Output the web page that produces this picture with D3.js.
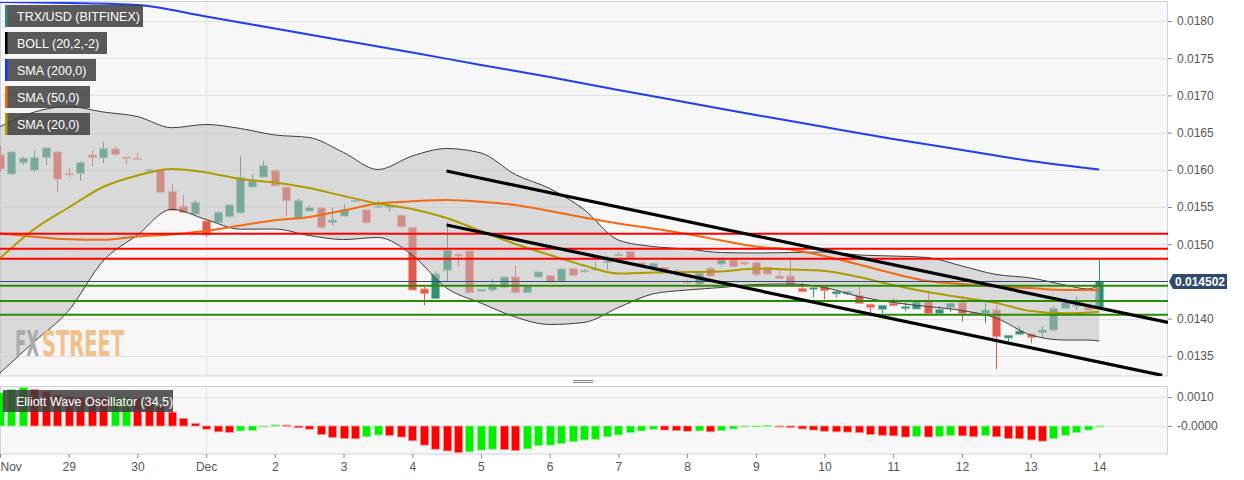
<!DOCTYPE html>
<html><head><meta charset="utf-8">
<script src="https://cdn.jsdelivr.net/npm/d3@7"></script>
<style>
html,body{margin:0;padding:0;background:#fff;}
svg{display:block;font-family:"Liberation Sans",Arial,Helvetica,sans-serif;}
</style></head><body>
<svg id="chart" width="1244" height="480"></svg>
<script>
// ---------------- DATA ----------------
const firstCandle = Date.UTC(2019, 10, 28, 0, 0);   // 4-hour candles
const candleHours = 4;
const dayTicks = ["Nov","29","30","Dec","2","3","4","5","6","7","8","9","10","11","12","13","14"];
const priceTicks = [0.0135,0.0140,0.0145,0.0150,0.0155,0.0160,0.0165,0.0170,0.0175,0.0180];
const priceLabelTicks = [0.0135,0.0140,0.0150,0.0155,0.0160,0.0165,0.0170,0.0175,0.0180]; // 0.0145 hidden under price tag
const oscTicks = [0.0010, 0.0];
const oscTickLabels = ["0.0010","-0.0000"];

const open = [0.016199,0.015944,0.016095,0.015997,0.016168,0.016239,0.015950,0.015953,0.016199,0.016163,
0.016280,0.016172,0.016155,0.015993,0.015988,0.015711,0.015509,0.015406,0.015312,0.015294,
0.015370,0.015423,0.015769,0.015903,0.015993,0.015765,0.015343,0.015446,0.015487,0.015294,
0.015379,0.015574,0.015460,0.015500,0.015491,0.015388,0.015224,0.014398,0.014270,0.014649,
0.014864,0.014909,0.014371,0.014384,0.014421,0.014559,0.014348,0.014559,0.014577,0.014505,
0.014671,0.014630,0.014653,0.014751,0.014845,0.014899,0.014747,0.014676,0.014687,0.014626,
0.014501,0.014465,0.014676,0.014734,0.014788,0.014757,0.014751,0.014690,0.014573,0.014573,
0.014407,0.014394,0.014429,0.014331,0.014331,0.014310,0.014192,0.014125,0.014206,0.014133,
0.014129,0.014227,0.014071,0.014152,0.014214,0.014079,0.014071,0.014116,0.013739,0.013789,
0.013793,0.013810,0.013847,0.014138,0.014169,0.014152,0.014156];
const high = [0.016320,0.016253,0.016176,0.016257,0.016306,0.016253,0.016028,0.016118,0.016266,0.016378,
0.016320,0.016172,0.016230,0.016015,0.015997,0.015805,0.015661,0.015594,0.015325,0.015446,
0.015540,0.016185,0.015944,0.016122,0.016004,0.015776,0.015617,0.015523,0.015500,0.015491,
0.015536,0.015594,0.015466,0.015585,0.015571,0.015406,0.015231,0.014425,0.014633,0.015294,
0.014886,0.014915,0.014398,0.014532,0.014566,0.014707,0.014438,0.014633,0.014586,0.014673,
0.014680,0.014667,0.014765,0.014845,0.014891,0.014909,0.014761,0.014754,0.014693,0.014667,
0.014512,0.014620,0.014700,0.014794,0.014801,0.014767,0.014761,0.014700,0.014653,0.014797,
0.014496,0.014425,0.014438,0.014371,0.014371,0.014429,0.014203,0.014183,0.014273,0.014227,
0.014237,0.014375,0.014169,0.014216,0.014304,0.014089,0.014227,0.014183,0.013780,0.013900,
0.013800,0.013900,0.014169,0.014273,0.014294,0.014163,0.014788];
const low = [0.015970,0.015930,0.016064,0.015966,0.016064,0.015706,0.015899,0.015853,0.016051,0.016087,
0.016185,0.016074,0.016132,0.015974,0.015688,0.015446,0.015419,0.015392,0.015101,0.015285,
0.015359,0.015413,0.015751,0.015896,0.015776,0.015379,0.015332,0.015439,0.015208,0.015249,
0.015372,0.015567,0.015278,0.015493,0.015437,0.015224,0.014378,0.014176,0.014263,0.014505,
0.014698,0.014337,0.014364,0.014357,0.014411,0.014337,0.014344,0.014552,0.014485,0.014499,
0.014573,0.014617,0.014646,0.014663,0.014837,0.014801,0.014707,0.014667,0.014640,0.014573,
0.014472,0.014458,0.014559,0.014698,0.014687,0.014720,0.014559,0.014586,0.014532,0.014445,
0.014351,0.014286,0.014259,0.014286,0.014317,0.014196,0.014026,0.014071,0.014163,0.014106,
0.014122,0.014062,0.014062,0.014093,0.013958,0.014062,0.013937,0.013318,0.013689,0.013780,
0.013668,0.013749,0.013840,0.014129,0.014116,0.014109,0.014142];
const close = [0.016011,0.016239,0.016155,0.016163,0.016293,0.015876,0.015937,0.016095,0.016168,0.016284,
0.016208,0.016164,0.016145,0.016001,0.015698,0.015456,0.015429,0.015563,0.015124,0.015429,
0.015527,0.015899,0.015863,0.016055,0.015786,0.015585,0.015585,0.015491,0.015227,0.015325,
0.015469,0.015587,0.015289,0.015513,0.015513,0.015235,0.014384,0.014335,0.014599,0.014918,
0.014841,0.014348,0.014394,0.014461,0.014559,0.014348,0.014434,0.014626,0.014492,0.014667,
0.014582,0.014649,0.014671,0.014774,0.014864,0.014810,0.014720,0.014743,0.014653,0.014640,
0.014482,0.014609,0.014573,0.014788,0.014698,0.014734,0.014590,0.014599,0.014542,0.014452,
0.014362,0.014415,0.014375,0.014362,0.014362,0.014203,0.014152,0.014179,0.014173,0.014160,
0.014227,0.014071,0.014125,0.014206,0.014071,0.014071,0.014116,0.013757,0.013776,0.013833,
0.013749,0.013847,0.014138,0.014214,0.014183,0.014116,0.014502];

// Bollinger band (20,2) and moving averages, read at candle indices
const bandIdx = [0,3,6,9,12,15,18,21,24,27,30,33,36,39,42,45,48,51,54,57,60,63,66,69,72,75,78,81,84,87,90,93,95,96];
const bandUpper = [0.016580,0.016777,0.016851,0.016777,0.016716,0.016566,0.016609,0.016555,0.016468,0.016434,
0.016233,0.016004,0.016185,0.016286,0.016226,0.015937,0.015749,0.015466,0.015056,0.014969,
0.014935,0.014888,0.014882,0.014888,0.014895,0.014855,0.014841,0.014821,0.014707,0.014593,
0.014546,0.014452,0.014398,0.014452];
const bandLower = [0.013269,0.013692,0.014109,0.014774,0.015124,0.015469,0.015332,0.015202,0.015204,0.015117,
0.015063,0.015090,0.014855,0.014411,0.014210,0.014021,0.013921,0.013948,0.014149,0.014331,
0.014384,0.014418,0.014458,0.014465,0.014418,0.014297,0.014216,0.014163,0.014109,0.014008,
0.013780,0.013712,0.013712,0.013699];
const smaIdx = [0,3,6,9,12,15,18,21,24,27,30,33,36,39,42,45,48,51,54,57,60,63,66,69,72,75,78,81,84,87,90,93,96];
const sma20 = [0.014810,0.015204,0.015493,0.015769,0.015923,0.016011,0.015964,0.015876,0.015829,0.015755,
0.015648,0.015547,0.015473,0.015352,0.015177,0.015003,0.014855,0.014714,0.014606,0.014620,
0.014626,0.014633,0.014673,0.014660,0.014640,0.014559,0.014452,0.014357,0.014284,0.014210,
0.014102,0.014071,0.014093];
const sma50 = [0.015146,0.015099,0.015066,0.015059,0.015103,0.015130,0.015180,0.015251,0.015321,0.015366,
0.015453,0.015547,0.015577,0.015594,0.015570,0.015527,0.015446,0.015359,0.015278,0.015211,
0.015137,0.015050,0.014969,0.014929,0.014841,0.014727,0.014606,0.014505,0.014465,0.014431,
0.014411,0.014384,0.014384];
const sma200Idx = [0,6,12,18,24,30,36,42,48,54,60,66,72,78,84,90,96];
const sma200 = [0.018255,0.018242,0.018215,0.018060,0.017899,0.017738,0.017577,0.017409,0.017247,0.017073,
0.016905,0.016737,0.016575,0.016414,0.016266,0.016118,0.016004];

// horizontal support / resistance levels
const resistance = [0.015140, 0.014940, 0.014805];
const support = [0.014442, 0.014237, 0.014052];
const lastPrice = 0.014502;

// descending channel: [candle index, price] endpoints
const trendUpper = [[39, 0.015984], [102, 0.013948]];
const trendLower = [[39, 0.015258], [101.5, 0.013237]];

// Elliott Wave Oscillator (34,5), one value per candle
const ewo = [0.00115,0.00126,0.00133,0.00126,0.00118,0.00107,0.00101,0.00100,0.00099,0.00098,
0.00099,0.00100,0.00096,0.00087,0.00067,0.00048,0.00026,0.00009,-0.00011,-0.00020,
-0.00022,-0.00017,-0.00015,-0.00001,0.00004,0.00003,-0.00006,-0.00011,-0.00029,-0.00039,
-0.00043,-0.00044,-0.00037,-0.00031,-0.00033,-0.00038,-0.00051,-0.00066,-0.00080,-0.00086,
-0.00092,-0.00089,-0.00083,-0.00080,-0.00081,-0.00085,-0.00079,-0.00068,-0.00066,-0.00060,
-0.00054,-0.00048,-0.00046,-0.00037,-0.00031,-0.00023,-0.00017,-0.00011,-0.00014,-0.00016,
-0.00018,-0.00017,-0.00020,-0.00016,-0.00010,-0.00003,-0.00002,0.00002,-0.00002,-0.00005,
-0.00010,-0.00014,-0.00018,-0.00020,-0.00021,-0.00023,-0.00029,-0.00032,-0.00034,-0.00038,
-0.00036,-0.00038,-0.00036,-0.00033,-0.00034,-0.00037,-0.00033,-0.00037,-0.00043,-0.00044,
-0.00048,-0.00052,-0.00043,-0.00032,-0.00023,-0.00014,-0.00001];

const legendItems = [
  {label:"TRX/USD (BITFINEX)", color:"#2e8b74", w:138},
  {label:"BOLL (20,2,-2)", color:"#000000", w:102},
  {label:"SMA (200,0)", color:"#1533ff", w:91},
  {label:"SMA (50,0)", color:"#ff6a00", w:85},
  {label:"SMA (20,0)", color:"#b09b00", w:85}
];

// ---------------- LAYOUT ----------------
const plotL = 0, plotR = 1168;
const mainTop = 2, mainBot = 376;
const oscTop = 387, oscBot = 454;

const svg = d3.select("#chart");
const tAt = i => new Date(firstCandle + i * candleHours * 3600e3);

const x = d3.scaleUtc()
  .domain([new Date(Date.UTC(2019,10,28)), new Date(Date.UTC(2019,11,15))])
  .range([plotL, plotR]);
const y = d3.scaleLinear().domain([0.0135, 0.0180]).range([355.8, 21]);
const yo = d3.scaleLinear().domain([0, 0.001]).range([426, 397]);

const defs = svg.append("defs");
defs.append("clipPath").attr("id","clipMain").append("rect")
  .attr("x", plotL).attr("y", mainTop).attr("width", plotR-plotL).attr("height", mainBot-mainTop);
defs.append("clipPath").attr("id","clipOsc").append("rect")
  .attr("x", plotL).attr("y", oscTop).attr("width", plotR-plotL).attr("height", oscBot-oscTop);

// panels
svg.append("rect").attr("x", plotL+0.5).attr("y", mainTop-0.5).attr("width", plotR-plotL-1).attr("height", mainBot-mainTop+0.5)
  .attr("fill","#f7f7f7").attr("stroke","#cdd2e2");
svg.append("rect").attr("x", plotL+0.5).attr("y", oscTop-0.5).attr("width", plotR-plotL-1).attr("height", oscBot-oscTop+0.5)
  .attr("fill","#f7f7f7").attr("stroke","#cdd2e2");

const main = svg.append("g").attr("clip-path","url(#clipMain)");
const osc = svg.append("g").attr("clip-path","url(#clipOsc)");

// grid
main.selectAll("line.gy").data(priceTicks).join("line")
  .attr("x1", plotL).attr("x2", plotR)
  .attr("y1", d => Math.round(y(d))+0.5).attr("y2", d => Math.round(y(d))+0.5)
  .attr("stroke","#e2e2e2");
const decX = Math.round(x(new Date(Date.UTC(2019,11,1))))+0.5;
main.append("line").attr("x1",decX).attr("x2",decX).attr("y1",mainTop).attr("y2",mainBot).attr("stroke","#e2e2e2");
osc.selectAll("line.go").data(oscTicks).join("line")
  .attr("x1", plotL).attr("x2", plotR)
  .attr("y1", d => Math.round(yo(d))+0.5).attr("y2", d => Math.round(yo(d))+0.5)
  .attr("stroke","#e2e2e2");
osc.append("line").attr("x1",decX).attr("x2",decX).attr("y1",oscTop).attr("y2",oscBot).attr("stroke","#e2e2e2");

// candles
const upC = "#2f8f74", dnC = "#e2584b";
const candles = open.map((o,i)=>({i, t:tAt(i), o, h:high[i], l:low[i], c:close[i]}));
const cg = main.append("g");
cg.selectAll("line.wick").data(candles).join("line")
  .attr("x1", d => Math.round(x(d.t))+0.5).attr("x2", d => Math.round(x(d.t))+0.5)
  .attr("y1", d => y(d.h)).attr("y2", d => y(d.l))
  .attr("stroke", d => d.c >= d.o ? upC : dnC).attr("stroke-width",1);
cg.selectAll("rect.body").data(candles).join("rect")
  .attr("x", d => Math.round(x(d.t)) - 3.5).attr("width", 8)
  .attr("y", d => y(Math.max(d.o,d.c)))
  .attr("height", d => Math.max(1.2, Math.abs(y(d.o)-y(d.c))))
  .attr("fill", d => d.c >= d.o ? upC : dnC)
  .attr("stroke", d => d.c >= d.o ? "#8ac3b3" : "#f2a49c").attr("stroke-width",0.8);

// Bollinger band
const bandPts = bandIdx.map((k,j)=>({t:tAt(k), u:bandUpper[j], l:bandLower[j]}));
main.append("path").datum(bandPts)
  .attr("d", d3.area().x(d=>x(d.t)).y0(d=>y(d.l)).y1(d=>y(d.u)).curve(d3.curveMonotoneX))
  .attr("fill","rgba(190,190,190,0.52)");
main.append("path").datum(bandPts)
  .attr("d", d3.line().x(d=>x(d.t)).y(d=>y(d.u)).curve(d3.curveMonotoneX))
  .attr("fill","none").attr("stroke","#3c3c3c").attr("stroke-width",1);
main.append("path").datum(bandPts)
  .attr("d", d3.line().x(d=>x(d.t)).y(d=>y(d.l)).curve(d3.curveMonotoneX))
  .attr("fill","none").attr("stroke","#3c3c3c").attr("stroke-width",1);

// watermark: small condensed font stretched vertically so the two words never overlap
const wmFont = "'DejaVu Sans Condensed','Liberation Sans Narrow','DejaVu Sans',sans-serif";
const wm = main.append("g").attr("transform","translate(15,356) scale(1,1.7)")
  .attr("font-family",wmFont).attr("font-weight","bold").attr("font-size",21);
wm.append("text").attr("x",0).attr("y",0).attr("textLength",24).attr("lengthAdjust","spacingAndGlyphs")
  .attr("fill","#a9a9a9").text("FX");
wm.append("text").attr("x",27).attr("y",0).attr("textLength",82).attr("lengthAdjust","spacingAndGlyphs")
  .attr("fill","#f3c08a").text("STREET");

// moving averages
const lineIdx = (idx, vals) => idx.map((k,j)=>({t:tAt(k), v:vals[j]}));
const mline = d3.line().x(d=>x(d.t)).y(d=>y(d.v)).curve(d3.curveMonotoneX);
main.append("path").datum(lineIdx(sma200Idx, sma200)).attr("d", mline)
  .attr("fill","none").attr("stroke","#1e3ef5").attr("stroke-width",2);
main.append("path").datum(lineIdx(smaIdx, sma50)).attr("d", mline)
  .attr("fill","none").attr("stroke","#f26a12").attr("stroke-width",2);
main.append("path").datum(lineIdx(smaIdx, sma20)).attr("d", mline)
  .attr("fill","none").attr("stroke","#ad9b00").attr("stroke-width",2);

// horizontal levels
main.selectAll("line.res").data(resistance).join("line")
  .attr("x1", plotL).attr("x2", plotR).attr("y1", d=>y(d)).attr("y2", d=>y(d))
  .attr("stroke","#ff0000").attr("stroke-width",2);
main.selectAll("line.sup").data(support).join("line")
  .attr("x1", plotL).attr("x2", plotR).attr("y1", d=>y(d)).attr("y2", d=>y(d))
  .attr("stroke","#2a8a00").attr("stroke-width",2);
main.append("line").attr("x1",plotL).attr("x2",plotR)
  .attr("y1", Math.round(y(lastPrice))+0.5).attr("y2", Math.round(y(lastPrice))+0.5)
  .attr("stroke","#34496b").attr("stroke-width",1);

// trend channel
const tline = d3.line().x(d=>x(tAt(d[0]))).y(d=>y(d[1]));
[trendUpper, trendLower].forEach(tl => {
  main.append("path").datum(tl).attr("d", tline)
    .attr("fill","none").attr("stroke","#000").attr("stroke-width",3.2);
});

// oscillator bars
osc.selectAll("rect.ewo").data(ewo.map((v,i)=>({i,v,t:tAt(i)}))).join("rect")
  .attr("x", d => Math.round(x(d.t)) - 3.5).attr("width", 8)
  .attr("y", d => yo(Math.max(0,d.v)))
  .attr("height", d => Math.max(1, Math.abs(yo(d.v)-yo(0))))
  .attr("fill", d => (d.i===0 || d.v >= ewo[d.i-1]) ? "#00f000" : "#ff0000")
  .attr("stroke", d => (d.i===0 || d.v >= ewo[d.i-1]) ? "#90f590" : "#ff9090").attr("stroke-width",0.8);

// right axes
const axR = svg.append("g").attr("transform",`translate(${plotR},0)`)
  .call(d3.axisRight(y).tickValues(priceLabelTicks).tickFormat(d3.format(".4f")).tickSize(4).tickPadding(5));
const axO = svg.append("g").attr("transform",`translate(${plotR},0)`)
  .call(d3.axisRight(yo).tickValues(oscTicks).tickFormat((d,i)=>oscTickLabels[i]).tickSize(4).tickPadding(5));
[axR, axO].forEach(a => {
  a.select(".domain").remove();
  a.selectAll("line").attr("stroke","#8a8a8a");
  a.selectAll("text").attr("fill","#555").attr("font-size",12).attr("font-family","'Liberation Sans',Arial,sans-serif");
});

// bottom axis
const dayDates = dayTicks.map((lab,i)=>new Date(Date.UTC(2019,10,28+i)));
const axB = svg.append("g").attr("transform",`translate(0,${oscBot})`)
  .call(d3.axisBottom(x).tickValues(dayDates).tickFormat((d,i)=>dayTicks[i]).tickSize(4).tickPadding(4));
axB.select(".domain").remove();
axB.selectAll("line").attr("stroke","#8a8a8a");
axB.selectAll("text").attr("fill","#555").attr("font-size",12).attr("font-family","'Liberation Sans',Arial,sans-serif");
axB.selectAll("text").filter((d,i)=>i===0).attr("text-anchor","start").attr("x",0);

// last price tag
const py = Math.round(y(lastPrice))+0.5;
svg.append("path")
  .attr("d", `M${plotR+1},${py} L${plotR+5},${py-7.5} L${plotR+59},${py-7.5} L${plotR+59},${py+7.5} L${plotR+5},${py+7.5} Z`)
  .attr("fill","#2f4a6e");
svg.append("text").attr("x", plotR+32).attr("y", py+4.5).attr("text-anchor","middle")
  .attr("fill","#fff").attr("font-size",12).attr("font-weight","bold").text(d3.format(".6f")(lastPrice));

// panel separator handle
[380.5, 382.5].forEach(yy => svg.append("line").attr("x1",573).attr("x2",593).attr("y1",yy).attr("y2",yy).attr("stroke","#8a8a8a"));

// legends
const lg = svg.append("g");
legendItems.forEach((it,k) => {
  const top = 5 + k*27;
  lg.append("rect").attr("x",5).attr("y",top).attr("width",it.w).attr("height",22).attr("fill","rgba(62,62,62,0.85)");
  lg.append("rect").attr("x",5).attr("y",top).attr("width",2.5).attr("height",22).attr("fill",it.color);
  lg.append("text").attr("x",17).attr("y",top+15.5).attr("fill","#fff").attr("font-size",12.5).text(it.label);
});
lg.append("rect").attr("x",3).attr("y",390).attr("width",170).attr("height",22).attr("fill","rgba(62,62,62,0.85)");
lg.append("text").attr("x",16).attr("y",405.5).attr("fill","#fff").attr("font-size",12.5).text("Elliott Wave Oscillator (34,5)");
</script>
</body></html>
